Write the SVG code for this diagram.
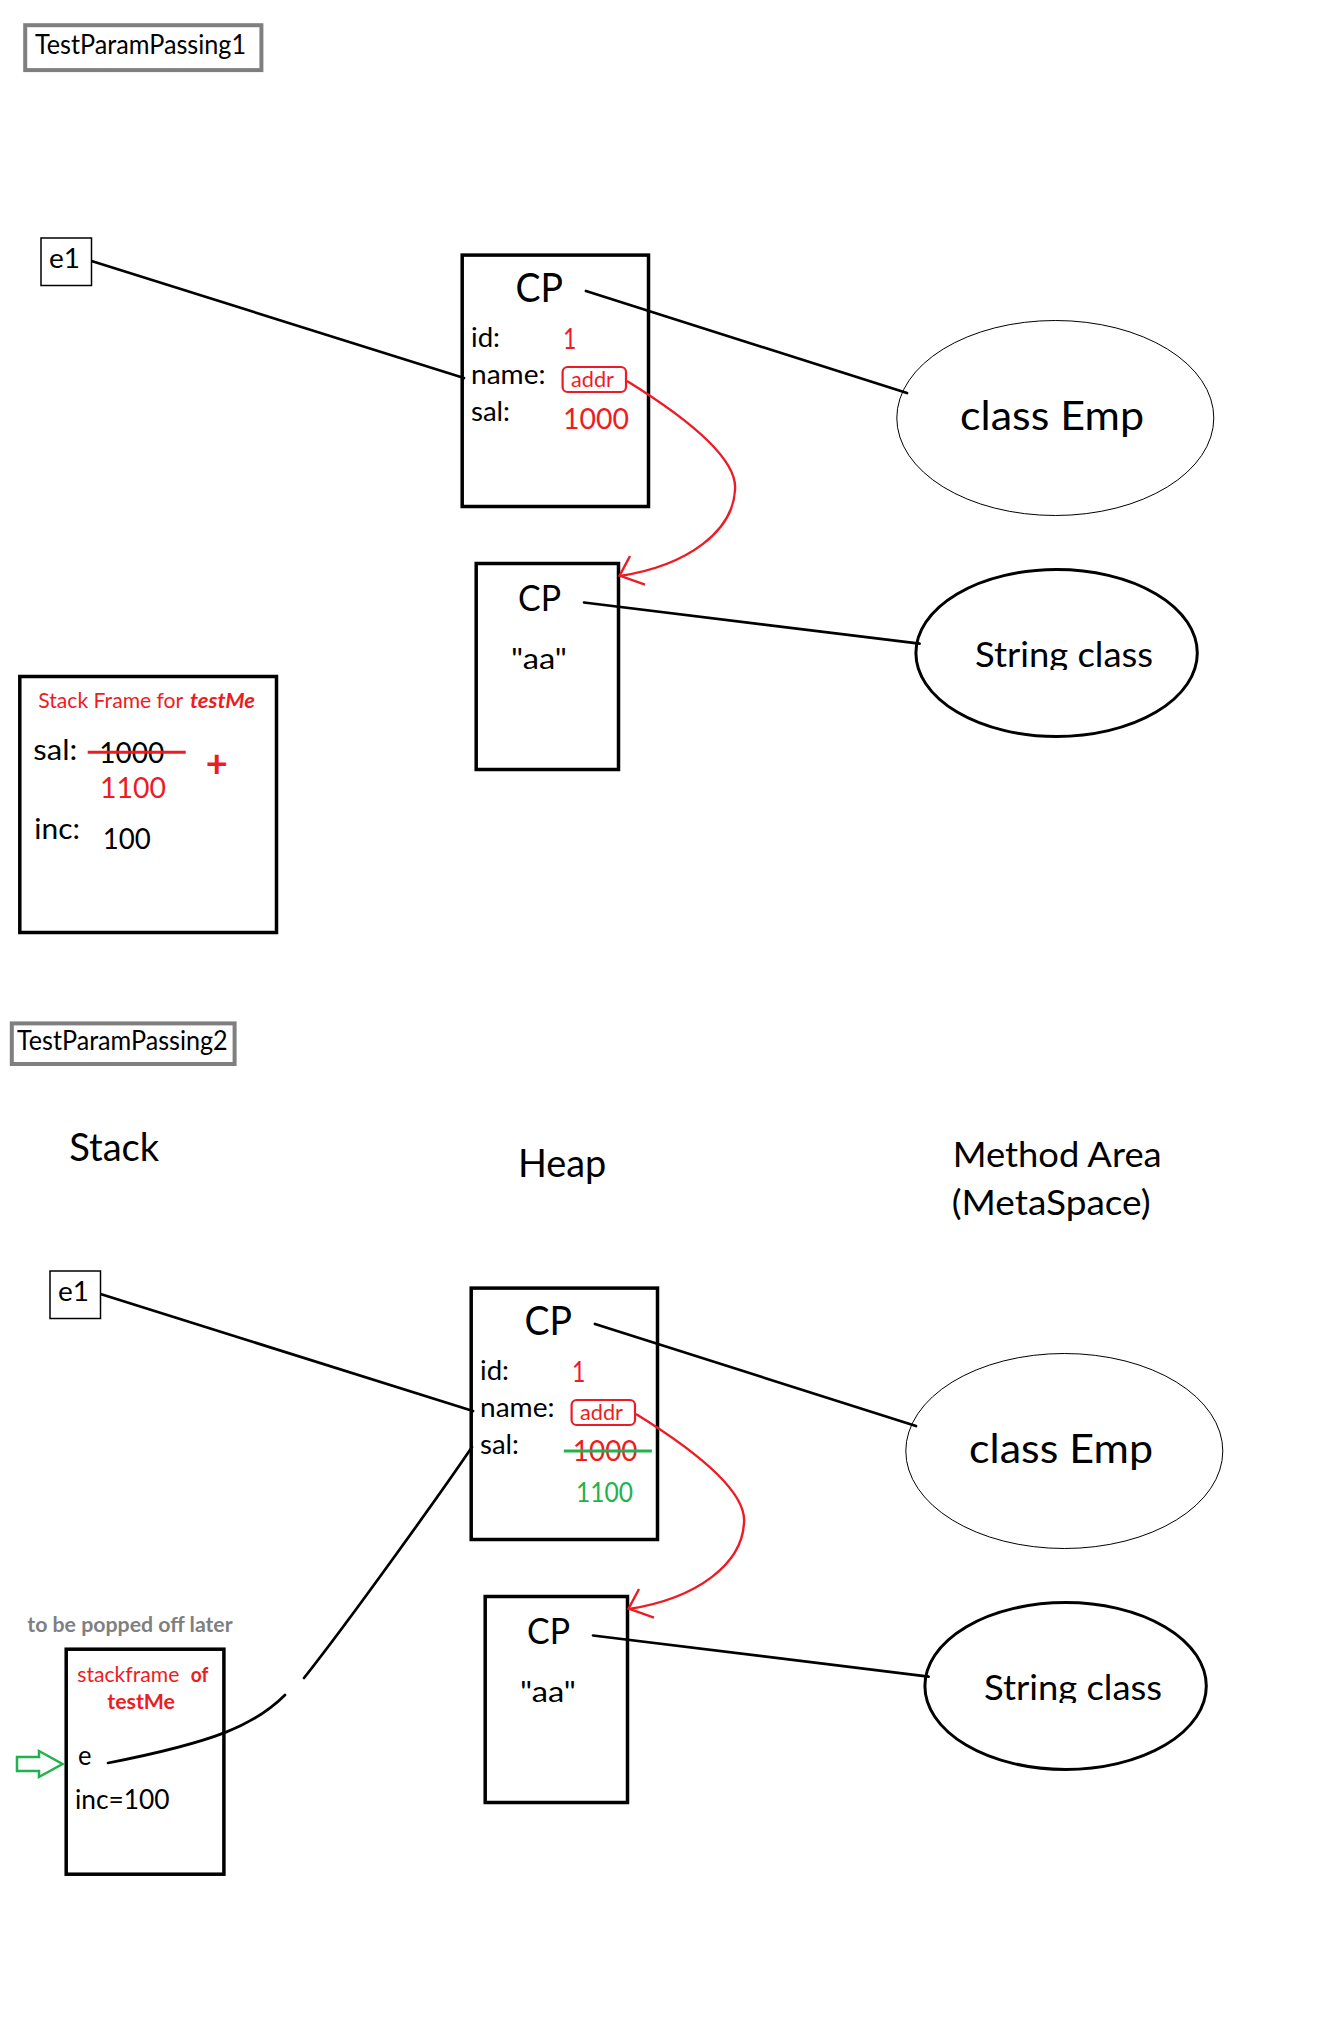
<svg xmlns="http://www.w3.org/2000/svg" width="1332" height="2020" viewBox="0 0 1332 2020">
<defs>
<style>
text { font-family: Lato, "Open Sans", "Liberation Sans", sans-serif; fill: #000; }
.red { fill: #ed1c24; }
.grn { fill: #22b14c; }
.gry { fill: #7f7f7f; font-weight: 700; }
.b { font-weight: 700; }
.bi { font-weight: 700; font-style: italic; }
.box { fill: none; stroke: #000; stroke-width: 3.5; }
.thin { fill: #fff; stroke: #000; stroke-width: 1.5; }
.ttl { fill: #fff; stroke: #7f7f7f; stroke-width: 4; }
.ell1 { fill: none; stroke: #000; stroke-width: 1; }
.ell3 { fill: none; stroke: #000; stroke-width: 3; }
.con { fill: none; stroke: #000; stroke-width: 2.7; stroke-linecap: round; }
.rcon { fill: none; stroke: #ed1c24; stroke-width: 2.4; }
.rbox { fill: none; stroke: #ed1c24; stroke-width: 2.2; }
.rstrike { stroke: #ed1c24; stroke-width: 3; }
.gstrike { stroke: #22b14c; stroke-width: 3; }
.garrow { fill: #fff; stroke: #22b14c; stroke-width: 2.5; }
</style>
<clipPath id="clipS" clipPathUnits="userSpaceOnUse"><rect x="960" y="620" width="210" height="50"/></clipPath>
</defs>
<rect x="0" y="0" width="1332" height="2020" fill="#fff"/>

<!-- ===== Section 1 ===== -->
<g id="title1">
<rect class="ttl" x="25.2" y="25.2" width="236.2" height="44.9"/>
<text x="35" y="53.5" font-size="26" textLength="211" lengthAdjust="spacingAndGlyphs">TestParamPassing1</text>
</g>

<g id="connectors1">
<path class="con" d="M91.5,261 L464,378"/>
<path class="con" d="M586,291 L907,393"/>
<path class="con" d="M584,602.5 L919.6,643.6"/>
</g>

<g id="e1-a">
<rect class="thin" x="41" y="238" width="50.5" height="47.5"/>
<text x="49" y="268" font-size="27" textLength="31" lengthAdjust="spacingAndGlyphs">e1</text>
</g>

<g id="cp-emp-a">
<rect class="box" x="462.2" y="255.1" width="186.3" height="251.4"/>
<text x="515.6" y="302" font-size="41" textLength="47.5" lengthAdjust="spacingAndGlyphs">CP</text>
<text x="471" y="347" font-size="27" textLength="29" lengthAdjust="spacingAndGlyphs">id:</text>
<text class="red" x="563" y="349" font-size="29" textLength="13.4" lengthAdjust="spacingAndGlyphs">1</text>
<text x="471" y="384" font-size="27" textLength="74.5" lengthAdjust="spacingAndGlyphs">name:</text>
<rect class="rbox" x="562.6" y="367" width="63.4" height="25" rx="5"/>
<text class="red" x="571" y="387" font-size="21" textLength="43" lengthAdjust="spacingAndGlyphs">addr</text>
<text x="471" y="421" font-size="27" textLength="39" lengthAdjust="spacingAndGlyphs">sal:</text>
<text class="red" x="563" y="428.6" font-size="29" textLength="66" lengthAdjust="spacingAndGlyphs">1000</text>
</g>

<g id="class-emp-a">
<ellipse class="ell1" cx="1055.3" cy="418" rx="158.5" ry="97.5"/>
<text x="960" y="430" font-size="41" textLength="184" lengthAdjust="spacingAndGlyphs">class Emp</text>
</g>

<g id="cp-str-a">
<rect class="box" x="476.2" y="563.5" width="142.3" height="206"/>
<text x="518" y="611.4" font-size="36" textLength="43" lengthAdjust="spacingAndGlyphs">CP</text>
<text x="511" y="668.6" font-size="28" textLength="56" lengthAdjust="spacingAndGlyphs">"aa"</text>
</g>

<g id="string-class-a">
<ellipse class="ell3" cx="1056.6" cy="653" rx="140.7" ry="83.5"/>
<text x="975" y="666.7" font-size="34" textLength="178" lengthAdjust="spacingAndGlyphs" clip-path="url(#clipS)">String class</text>
</g>

<g id="ref-arrow-a">
<path class="rcon" d="M627,381 C690,420 738,460 735,490 C733,530 690,565 620,576"/>
<polyline class="rcon" points="630,556 619.6,575.7 645,584.6"/>
</g>

<g id="stackframe-a">
<rect class="box" x="19.8" y="676.5" width="256.7" height="256"/>
<text class="red" x="38.3" y="708.3" font-size="21" textLength="145" lengthAdjust="spacingAndGlyphs">Stack Frame for</text>
<text class="red bi" x="190" y="708.3" font-size="21" textLength="65" lengthAdjust="spacingAndGlyphs">testMe</text>
<text x="33.3" y="760" font-size="28" textLength="44" lengthAdjust="spacingAndGlyphs">sal:</text>
<text x="99.3" y="763" font-size="29" textLength="65" lengthAdjust="spacingAndGlyphs">1000</text>
<line class="rstrike" x1="87.7" y1="752.3" x2="185.7" y2="752.3"/>
<text class="red b" x="216.7" y="777" font-size="38" text-anchor="middle">+</text>
<text class="red" x="100" y="798.3" font-size="29" textLength="66" lengthAdjust="spacingAndGlyphs">1100</text>
<text x="34.3" y="839.3" font-size="28" textLength="45.7" lengthAdjust="spacingAndGlyphs">inc:</text>
<text x="102.7" y="849.3" font-size="29" textLength="48" lengthAdjust="spacingAndGlyphs">100</text>
</g>

<!-- ===== Section 2 ===== -->
<g id="title2">
<rect class="ttl" x="11.8" y="1023.4" width="222.8" height="40.6"/>
<text x="17" y="1050" font-size="26" textLength="210.7" lengthAdjust="spacingAndGlyphs">TestParamPassing2</text>
</g>

<g id="headings2">
<text x="69.2" y="1161.4" font-size="39" textLength="90" lengthAdjust="spacingAndGlyphs">Stack</text>
<text x="517.9" y="1176.8" font-size="39" textLength="88.4" lengthAdjust="spacingAndGlyphs">Heap</text>
<text x="952.7" y="1166.7" font-size="35" textLength="209" lengthAdjust="spacingAndGlyphs">Method Area</text>
<text x="951.7" y="1215" font-size="35" textLength="199" lengthAdjust="spacingAndGlyphs">(MetaSpace)</text>
</g>

<g id="connectors2">
<g transform="translate(9,1033)">
<path class="con" d="M91.5,261 L464,378"/>
<path class="con" d="M586,291 L907,393"/>
<path class="con" d="M584,602.5 L919.6,643.6"/>
</g>
<path class="con" d="M472,1447 C445,1487 350,1620 304,1678"/>
<path class="con" d="M285,1695 C255,1725 215,1742 108,1763"/>
</g>

<g id="e1-b" transform="translate(9,1033)">
<rect class="thin" x="41" y="238" width="50.5" height="47.5"/>
<text x="49" y="268" font-size="27" textLength="31" lengthAdjust="spacingAndGlyphs">e1</text>
</g>

<g id="cp-emp-b" transform="translate(9,1033)">
<rect class="box" x="462.2" y="255.1" width="186.3" height="251.4"/>
<text x="515.6" y="302" font-size="41" textLength="47.5" lengthAdjust="spacingAndGlyphs">CP</text>
<text x="471" y="347" font-size="27" textLength="29" lengthAdjust="spacingAndGlyphs">id:</text>
<text class="red" x="563" y="349" font-size="29" textLength="13.4" lengthAdjust="spacingAndGlyphs">1</text>
<text x="471" y="384" font-size="27" textLength="74.5" lengthAdjust="spacingAndGlyphs">name:</text>
<rect class="rbox" x="562.6" y="367" width="63.4" height="25" rx="5"/>
<text class="red" x="571" y="387" font-size="21" textLength="43" lengthAdjust="spacingAndGlyphs">addr</text>
<text x="471" y="421" font-size="27" textLength="39" lengthAdjust="spacingAndGlyphs">sal:</text>
<text class="red" x="563.8" y="428.4" font-size="29" textLength="64.7" lengthAdjust="spacingAndGlyphs">1000</text>
<line class="gstrike" x1="554.8" y1="418" x2="642.8" y2="418"/>
<text class="grn" x="566.9" y="468.8" font-size="26" textLength="57" lengthAdjust="spacingAndGlyphs">1100</text>
</g>

<g id="class-emp-b" transform="translate(9,1033)">
<ellipse class="ell1" cx="1055.3" cy="418" rx="158.5" ry="97.5"/>
<text x="960" y="430" font-size="41" textLength="184" lengthAdjust="spacingAndGlyphs">class Emp</text>
</g>

<g id="cp-str-b" transform="translate(9,1033)">
<rect class="box" x="476.2" y="563.5" width="142.3" height="206"/>
<text x="518" y="611.4" font-size="36" textLength="43" lengthAdjust="spacingAndGlyphs">CP</text>
<text x="511" y="668.6" font-size="28" textLength="56" lengthAdjust="spacingAndGlyphs">"aa"</text>
</g>

<g id="string-class-b" transform="translate(9,1033)">
<ellipse class="ell3" cx="1056.6" cy="653" rx="140.7" ry="83.5"/>
<text x="975" y="666.7" font-size="34" textLength="178" lengthAdjust="spacingAndGlyphs" clip-path="url(#clipS)">String class</text>
</g>

<g id="ref-arrow-b" transform="translate(9,1033)">
<path class="rcon" d="M627,381 C690,420 738,460 735,490 C733,530 690,565 620,576"/>
<polyline class="rcon" points="630,556 619.6,575.7 645,584.6"/>
</g>

<g id="popped-note">
<text class="gry" x="27.3" y="1631.7" font-size="20" textLength="205.4" lengthAdjust="spacingAndGlyphs">to be popped off later</text>
</g>

<g id="stackframe-b">
<rect class="box" x="66.2" y="1649.2" width="157.7" height="225"/>
<text class="red" x="77.3" y="1681.7" font-size="21" textLength="102" lengthAdjust="spacingAndGlyphs">stackframe</text>
<text class="red b" x="190.7" y="1681.7" font-size="21" textLength="17.6" lengthAdjust="spacingAndGlyphs">of</text>
<text class="red b" x="107.3" y="1709.3" font-size="21" textLength="67.7" lengthAdjust="spacingAndGlyphs">testMe</text>
<text x="78" y="1765" font-size="27" textLength="13.5" lengthAdjust="spacingAndGlyphs">e</text>
<text x="75" y="1809.3" font-size="27" textLength="94.6" lengthAdjust="spacingAndGlyphs">inc=100</text>
</g>

<g id="current-arrow">
<polygon class="garrow" points="17,1757 39,1757 39,1751 62.5,1764 39,1777 39,1771 17,1771"/>
</g>
</svg>
